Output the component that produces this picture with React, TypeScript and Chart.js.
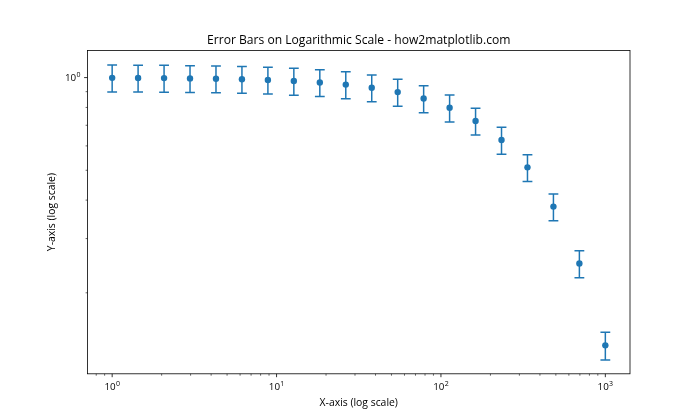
import React, { useEffect, useRef } from "react";
import { Chart, registerables } from "chart.js";

Chart.register(...registerables);

const xValues = [1, 1.438, 2.069, 2.976, 4.281, 6.158, 8.859, 12.74, 18.33, 26.37, 37.93, 54.56, 78.48, 112.9, 162.4, 233.6, 336.0, 483.3, 695.2, 1000];
const yValues = [0.998, 0.997, 0.996, 0.994, 0.991, 0.988, 0.982, 0.975, 0.964, 0.949, 0.927, 0.897, 0.855, 0.798, 0.723, 0.627, 0.511, 0.381, 0.249, 0.135];
const yErrors = [0.100, 0.100, 0.100, 0.099, 0.099, 0.099, 0.098, 0.098, 0.096, 0.095, 0.093, 0.090, 0.086, 0.080, 0.072, 0.063, 0.051, 0.038, 0.025, 0.014];

const xMajorTicks = [1, 10, 100, 1000];
const xMajorExponents = ["0", "1", "2", "3"];
const xMinorTicks = [0.8, 0.9, 2, 3, 4, 5, 6, 7, 8, 9, 20, 30, 40, 50, 60, 70, 80, 90, 200, 300, 400, 500, 600, 700, 800, 900];
const yMajorTicks = [1];
const yMajorExponents = ["0"];
const yMinorTicks = [0.2, 0.3, 0.4, 0.5, 0.6, 0.7, 0.8, 0.9];
const tickBase = "10";

const xRange = [0.70795, 1412.5];
const yRange = [0.10914, 1.2254];

const TITLE = "Error Bars on Logarithmic Scale - how2matplotlib.com";
const X_LABEL = "X-axis (log scale)";
const Y_LABEL = "Y-axis (log scale)";

const BLUE = "#1f77b4";
const TEXT_FONT = "'Open Sans', 'DejaVu Sans', sans-serif";

export default function App() {
  const ref = useRef<HTMLCanvasElement | null>(null);

  useEffect(() => {
    document.body.style.margin = "0";
    const canvas = ref.current;
    if (!canvas) return;

    const drawPowerLabel = (ctx: any, exp: string, x: number, y: number, align: "center" | "right") => {
      const baseFont = `9.8px ${TEXT_FONT}`;
      const supFont = `7px ${TEXT_FONT}`;
      ctx.font = baseFont;
      const wb = ctx.measureText(tickBase).width;
      ctx.font = supFont;
      const ws = ctx.measureText(exp).width;
      const total = wb + ws + 0.3;
      const start = align === "center" ? x - total / 2 : x - total;
      ctx.textAlign = "left";
      ctx.textBaseline = "alphabetic";
      ctx.font = baseFont;
      ctx.fillText(tickBase, start, y);
      ctx.font = supFont;
      ctx.fillText(exp, start + wb + 0.3, y - 4.2);
    };

    const errorBars = {
      id: "errorBars",
      beforeDatasetsDraw(chart: any) {
        const { ctx, chartArea } = chart;
        const xs = chart.scales.x;
        const ys = chart.scales.y;
        ctx.save();
        ctx.beginPath();
        ctx.rect(chartArea.left, chartArea.top, chartArea.right - chartArea.left, chartArea.bottom - chartArea.top);
        ctx.clip();
        ctx.strokeStyle = BLUE;
        ctx.lineWidth = 1.5;
        const cap = 4.9;
        xValues.forEach((xv, i) => {
          const px = xs.getPixelForValue(xv);
          const top = ys.getPixelForValue(yValues[i] + yErrors[i]);
          const bot = ys.getPixelForValue(yValues[i] - yErrors[i]);
          ctx.beginPath();
          ctx.moveTo(px, top);
          ctx.lineTo(px, bot);
          ctx.moveTo(px - cap, top);
          ctx.lineTo(px + cap, top);
          ctx.moveTo(px - cap, bot);
          ctx.lineTo(px + cap, bot);
          ctx.stroke();
        });
        ctx.restore();
      },
      afterDraw(chart: any) {
        const { ctx, chartArea } = chart;
        const xs = chart.scales.x;
        const ys = chart.scales.y;
        const { left, right, top, bottom } = chartArea;
        ctx.save();
        ctx.strokeStyle = "#000";
        ctx.lineWidth = 0.8;
        const drawX = (v: number, len: number) => {
          const p = xs.getPixelForValue(v);
          if (p < left - 0.5 || p > right + 0.5) return;
          ctx.beginPath();
          ctx.moveTo(p, bottom);
          ctx.lineTo(p, bottom + len);
          ctx.stroke();
        };
        const drawY = (v: number, len: number) => {
          const p = ys.getPixelForValue(v);
          if (p < top - 0.5 || p > bottom + 0.5) return;
          ctx.beginPath();
          ctx.moveTo(left, p);
          ctx.lineTo(left - len, p);
          ctx.stroke();
        };
        xMajorTicks.forEach((v) => drawX(v, 3.4));
        ctx.lineWidth = 0.6;
        xMinorTicks.forEach((v) => drawX(v, 1.9));
        ctx.lineWidth = 0.8;
        yMajorTicks.forEach((v) => drawY(v, 3.4));
        ctx.lineWidth = 0.6;
        yMinorTicks.forEach((v) => drawY(v, 1.9));
        ctx.lineWidth = 0.8;
        ctx.strokeRect(left, top, right - left, bottom - top);

        ctx.fillStyle = "#000";
        xMajorTicks.forEach((v, i) => {
          drawPowerLabel(ctx, xMajorExponents[i], xs.getPixelForValue(v), 390, "center");
        });
        yMajorTicks.forEach((v, i) => {
          drawPowerLabel(ctx, yMajorExponents[i], 80.5, ys.getPixelForValue(v) + 3.8, "right");
        });

        ctx.textAlign = "center";
        ctx.textBaseline = "alphabetic";
        ctx.font = `12.1px ${TEXT_FONT}`;
        ctx.fillText(TITLE, (left + right) / 2, top - 6.5);
        ctx.font = `10.4px ${TEXT_FONT}`;
        ctx.textBaseline = "middle";
        ctx.fillText(X_LABEL, (left + right) / 2, 403);
        ctx.translate(52, (top + bottom) / 2);
        ctx.rotate(-Math.PI / 2);
        ctx.fillText(Y_LABEL, 0, 0);
        ctx.restore();
      },
    };

    const chart = new Chart(canvas, {
      type: "scatter",
      data: {
        datasets: [
          {
            data: xValues.map((x, i) => ({ x, y: yValues[i] })),
            backgroundColor: BLUE,
            borderColor: BLUE,
            pointRadius: 3.2,
            pointBorderWidth: 0,
            showLine: false,
          },
        ],
      },
      options: {
        animation: false,
        responsive: false,
        devicePixelRatio: 1,
        layout: { padding: { left: 0, right: 70, top: 50.4, bottom: 0 } },
        plugins: {
          legend: { display: false },
          title: { display: false },
          tooltip: { enabled: false },
        },
        scales: {
          x: {
            type: "logarithmic",
            min: xRange[0],
            max: xRange[1],
            bounds: "data",
            grid: { display: false },
            border: { display: false },
            afterBuildTicks: (scale: any) => {
              scale.ticks = xMajorTicks.map((v) => ({ value: v, major: true }));
            },
            afterFit: (scale: any) => {
              scale.height = 46.2;
            },
            ticks: { display: false },
          },
          y: {
            type: "logarithmic",
            min: yRange[0],
            max: yRange[1],
            bounds: "data",
            grid: { display: false },
            border: { display: false },
            afterBuildTicks: (scale: any) => {
              scale.ticks = yMajorTicks.map((v) => ({ value: v, major: true }));
            },
            afterFit: (scale: any) => {
              scale.width = 87.5;
            },
            ticks: { display: false },
          },
        },
      },
      plugins: [errorBars],
    } as any);

    return () => chart.destroy();
  }, []);

  return <canvas ref={ref} width={700} height={420} style={{ display: "block" }} />;
}
